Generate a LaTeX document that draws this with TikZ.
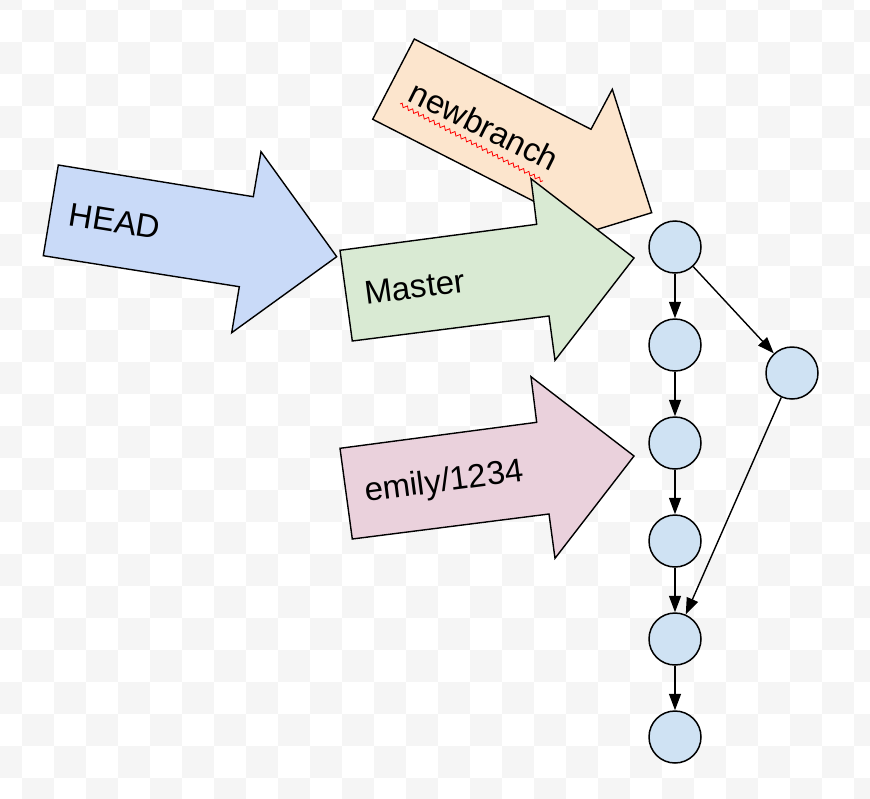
\documentclass[tikz,border=0pt]{standalone}
\usepackage{fontspec}
\setmainfont{Liberation Sans}
\usepackage{tikz}
\usetikzlibrary{arrows.meta, positioning, decorations.pathmorphing}

\definecolor{headblue}{HTML}{C9DAF8}
\definecolor{mastergreen}{HTML}{D9EAD3}
\definecolor{newpeach}{HTML}{FCE5CD}
\definecolor{emilypink}{HTML}{EAD1DC}
\definecolor{commitblue}{HTML}{CFE2F3}
\definecolor{checkgray}{HTML}{F5F5F5}

\begin{document}
\begin{tikzpicture}[
      x=1pt, y=-1pt,
      >={Triangle[length=16.5pt,width=12pt]},
      branch/.style = {
        draw,
        line width=1.4pt,
        line join=miter
      },
      reftext/.style = {
        anchor=base west,
        inner sep=0pt,
        font=\fontsize{33}{40}\selectfont
      },
      commit/.style = {
        circle,
        draw,
        line width=1.5pt,
        fill=commitblue,
        minimum size=52pt,
        inner sep=0pt
      },
      link/.style = {
        ->,
        line width=1.4pt
      }
    ]

    \useasboundingbox (0,0) rectangle (870,798);

    % checkered background
    \begin{scope}
      \clip (0,0) rectangle (870,798);
      \foreach \i in {0,...,27}
        \foreach \j in {0,...,25}{
          \pgfmathtruncatemacro\k{mod(\i+\j,2)}
          \ifnum\k=0
            \fill[checkgray] (-10+32*\i,-22+32*\j) rectangle ++(32,32);
          \fi
        }
    \end{scope}

    % branch pointers
    \draw[branch, fill=newpeach] (414.3,39) -- (591,129.3) -- (612.3,89.3)
      -- (651.7,212.7) -- (530,250) -- (549.6,209.3) -- (372.7,119.3) -- cycle;
    \node[reftext, rotate=-26.5] (newbranch) at (406.7,100) {newbranch};
    \draw[red, line width=0.8pt, decorate,
      decoration={zigzag, amplitude=1.8pt, segment length=6pt}]
      (400,104) -- (543,181);

    \draw[branch, fill=mastergreen] (340,250.3) -- (536.7,224.3) -- (531,178.7)
      -- (634,258) -- (555,360.3) -- (549,316) -- (352.3,341) -- cycle;
    \node[reftext, rotate=7.5] (master) at (366,305) {Master};

    \draw[branch, fill=headblue] (58.3,165) -- (253.3,196.7) -- (261,151.7)
      -- (336.7,256.7) -- (231.7,332.7) -- (239.3,286.7) -- (43.3,255.7) -- cycle;
    \node[reftext, rotate=-9.2] (head) at (67.7,225) {HEAD};

    \draw[branch, fill=emilypink] (340,448.3) -- (536.7,422.3) -- (531,376.7)
      -- (634,456) -- (555,558.3) -- (549,514) -- (352.3,539) -- cycle;
    \node[reftext, rotate=7.5] (emily) at (366,502) {emily/1234};

    % commits
    \node[commit] (c1) at (675,247) {};
    \node[commit] (c2) at (675,345) {};
    \node[commit] (c3) at (675,443) {};
    \node[commit] (c4) at (675,541) {};
    \node[commit] (c5) at (675,639) {};
    \node[commit] (c6) at (675,737) {};
    \node[commit] (side) at (792,373) {};

    \draw[link] (c1) -- (c2);
    \draw[link] (c2) -- (c3);
    \draw[link] (c3) -- (c4);
    \draw[link] (c4) -- (c5);
    \draw[link] (c5) -- (c6);
    \draw[link] (c1) -- (side);
    \draw[link] (side) -- (c5);

  \end{tikzpicture}
\end{document}
